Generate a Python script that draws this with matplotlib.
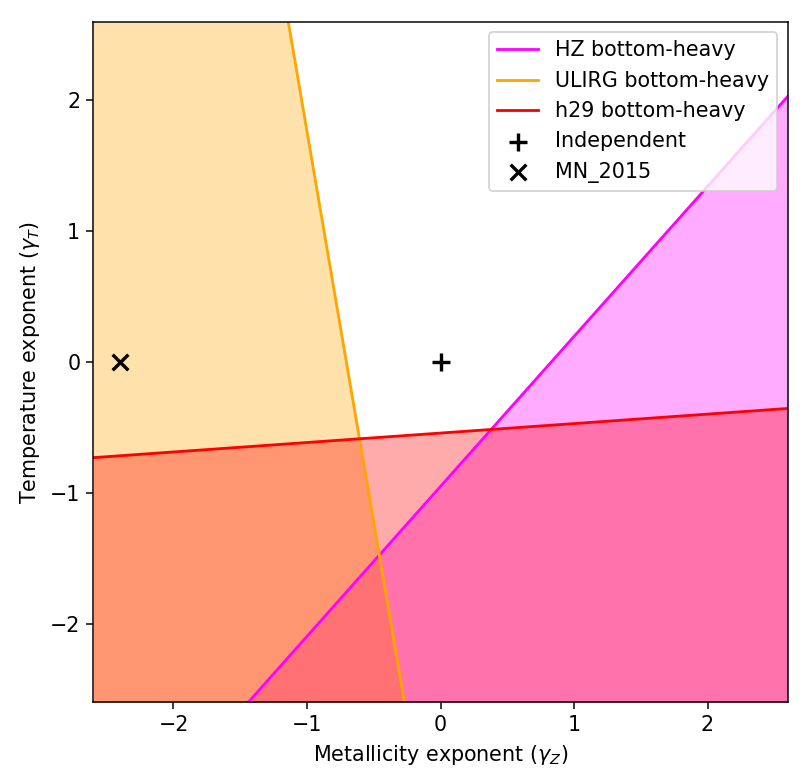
import matplotlib

matplotlib.use("Agg")
import matplotlib.pyplot as plt

plt.rcParams["font.size"] = 11

# axis limits of the parameter plane
LIM = 2.6

# boundary lines, read as endpoints (x, y) at the plot edges
hz_x = [-1.44, 2.6]
hz_y = [-2.6, 2.03]
ulirg_x = [-0.27, -1.14]
ulirg_y = [-2.6, 2.6]
h29_x = [-2.6, 2.6]
h29_y = [-0.73, -0.354]

# reference points
indep_x, indep_y = [0.0], [0.0]
mn_x, mn_y = [-2.4], [0.0]

fig, ax = plt.subplots(figsize=(812 / 135, 783 / 135), dpi=135)

# shaded regions
ax.fill_between(hz_x, hz_y, -LIM, color="magenta", alpha=0.33, linewidth=0)
ax.fill_betweenx(ulirg_y, ulirg_x, -LIM, color="orange", alpha=0.33, linewidth=0)
ax.fill_between(h29_x, h29_y, -LIM, color="red", alpha=0.33, linewidth=0)

ax.plot(hz_x, hz_y, color="magenta", lw=1.5, label="HZ bottom-heavy")
ax.plot(ulirg_x, ulirg_y, color="orange", lw=1.5, label="ULIRG bottom-heavy")
ax.plot(h29_x, h29_y, color="red", lw=1.5, label="h29 bottom-heavy")

ax.scatter(indep_x, indep_y, marker="+", s=90, color="black", linewidths=1.8,
           label="Independent", zorder=5)
ax.scatter(mn_x, mn_y, marker="x", s=70, color="black", linewidths=1.8,
           label="MN_2015", zorder=5)

ax.set_xlim(-LIM, LIM)
ax.set_ylim(-LIM, LIM)
ax.set_xticks([-2, -1, 0, 1, 2])
ax.set_yticks([-2, -1, 0, 1, 2])
ax.set_xlabel(r"Metallicity exponent ($\gamma_Z$)")
ax.set_ylabel(r"Temperature exponent ($\gamma_T$)")
ax.legend(loc="upper right")

fig.subplots_adjust(left=0.115, right=0.97, bottom=0.103, top=0.972)
fig.savefig("out.png", dpi=135)
